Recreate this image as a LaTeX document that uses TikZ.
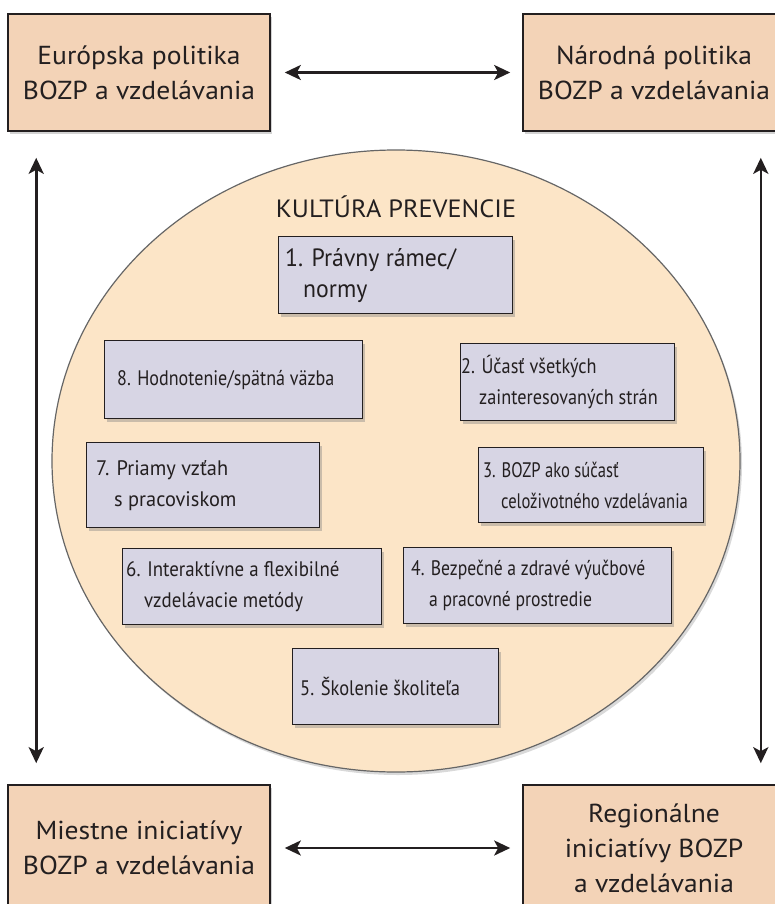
\documentclass[tikz,border=0pt]{standalone}
\usepackage{fontspec}
\setmainfont{PT Sans}
\newfontfamily\levelfont[FakeStretch=1.06]{PT Sans}
\newfontfamily\titlefont[FakeStretch=1.05]{PT Sans}
\usetikzlibrary{positioning, arrows.meta, calc, shadows, shapes.geometric}
\definecolor{cPeach}{RGB}{243,211,183}
\definecolor{cCircle}{RGB}{252,229,199}
\definecolor{cLilac}{RGB}{215,213,228}
\definecolor{cLine}{RGB}{35,31,32}
\newcommand{\indline}{\hspace*{18pt}}

\begin{document}
\begin{tikzpicture}[x=1pt, y=-1pt, >={Stealth[length=16pt, width=15pt, inset=4pt]},
    levelbox/.style={draw=cLine, line width=1.6pt, fill=cPeach, minimum width=262pt, align=center, text=cLine,
        font=\levelfont\fontsize{26}{35}\selectfont, drop shadow={shadow xshift=2pt, shadow yshift=-3pt, opacity=0.35}},
    pillarbox/.style={draw=cLine, line width=1.4pt, fill=cLilac, anchor=north west, inner sep=0pt,
        drop shadow={shadow xshift=2pt, shadow yshift=-3pt, opacity=0.4}},
    pillartext/.style={anchor=west, align=left, inner sep=0pt, text=cLine},
    biarrow/.style={<->, line width=2.6pt, draw=cLine}]

    \useasboundingbox (0,0) rectangle (775,904);

    % Culture of prevention in the middle
    \node [ellipse, draw=black!60, line width=1.2pt, fill=cCircle, minimum width=688pt, minimum height=622pt,
        drop shadow={shadow xshift=2pt, shadow yshift=-3pt, opacity=0.3}] (culture) at (396,461) {};
    \node [font=\titlefont\fontsize{25}{28}\selectfont, text=cLine] (title) at (396,207) {KULTÚRA PREVENCIE};

    % The four levels of policy and initiatives
    \node [levelbox, minimum height=117pt] (euro) at (139,72.5) {Európska politika\\BOZP a vzdelávania};
    \node [levelbox, minimum height=117pt] (narod) at (654,72.5) {Národná politika\\BOZP a vzdelávania};
    \node [levelbox, minimum height=126pt] (miestne) at (139,848) {Miestne iniciatívy\\BOZP a vzdelávania};
    \node [levelbox, minimum height=126pt] (region) at (654,848) {Regionálne\\iniciatívy BOZP\\a vzdelávania};

    % Two-way links between the levels
    \draw [biarrow, shorten <=14pt, shorten >=12pt] (euro) -- (narod);
    \draw [biarrow, shorten <=14pt, shorten >=12pt] (miestne) -- (region);
    \draw [biarrow, shorten <=26pt, shorten >=21pt] ([xshift=29pt]euro.south west) -- ([xshift=29pt]miestne.north west);
    \draw [biarrow, shorten <=26pt, shorten >=21pt] ([xshift=-25pt]narod.south east) -- ([xshift=-25pt]region.north east);

    % Loop for the 8 pillars inside the circle
    \foreach \n/\x/\y/\w/\h/\p/\s/\f/\txt in {
        1/278/236/234/77/7/0.95/25/{1. Právny rámec/\\\indline normy},
        2/460/343/214/77/1/0.87/21/{2. Účasť všetkých\\\indline zainteresovaných strán},
        3/478/447/225/75/5/0.79/21/{3. BOZP ako súčasť\\\indline celoživotného vzdelávania},
        4/403/547/268/76/8/0.84/21/{4. Bezpečné a zdravé výučbové\\\indline a pracovné prostredie},
        5/292/648/206/76/8/0.88/21/{5. Školenie školiteľa},
        6/122/548/259/76/4/0.90/21/{6. Interaktívne a flexibilné\\\indline vzdelávacie metódy},
        7/86/442/233/85/10/0.97/21/{7. Priamy vzťah\\\indline s pracoviskom},
        8/104/340/258/78/13/0.86/21/{8. Hodnotenie/spätná väzba}
    } {
        \node [pillarbox, minimum width=\w pt, minimum height=\h pt] (box\n) at (\x,\y) {};
        \node [pillartext, font={\fontspec[FakeStretch=\s]{PT Sans}\fontsize{\f}{31}\selectfont}]
            (txt\n) at ([xshift=\p pt]box\n.west) {\txt};
    }
\end{tikzpicture}
\end{document}
